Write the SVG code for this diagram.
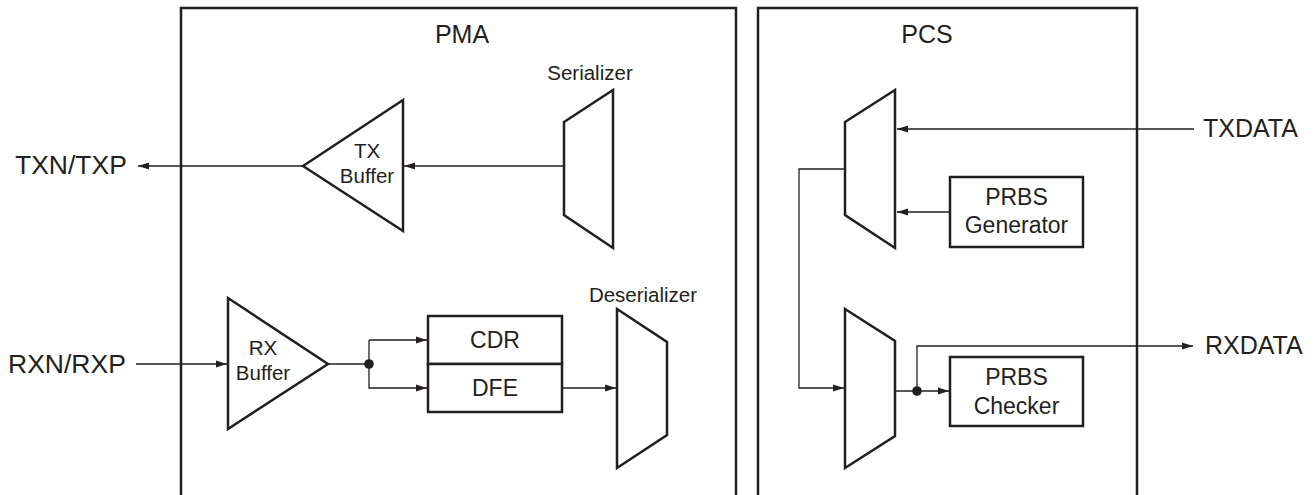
<svg xmlns="http://www.w3.org/2000/svg" width="1315" height="495" viewBox="0 0 1315 495">
<style>
.frame{fill:none;stroke:#231f20;stroke-width:2.5}
.shape{fill:#fff;stroke:#231f20;stroke-width:2.5;stroke-linejoin:miter}
.wire{fill:none;stroke:#231f20;stroke-width:1.3}
.big{font-family:"Liberation Sans",Arial,sans-serif;font-size:25px;fill:#231f20}
.port{font-family:"Liberation Sans",Arial,sans-serif;font-size:26.5px;fill:#231f20}
.mid{font-family:"Liberation Sans",Arial,sans-serif;font-size:23px;fill:#231f20;text-anchor:middle}
.sm{font-family:"Liberation Sans",Arial,sans-serif;font-size:20.5px;fill:#231f20;text-anchor:middle}
.dot{fill:#231f20}
</style>
<defs>
<marker id="arr" markerUnits="userSpaceOnUse" markerWidth="12" markerHeight="8" refX="11" refY="4" orient="auto">
<path d="M0,0.6 L11,4 L0,7.4 z" fill="#231f20"/>
</marker>
</defs>
<g id="pma">
<path class="frame" d="M181,500 V8 H736 V500"/>
<text class="big" x="462" y="43" text-anchor="middle">PMA</text>
</g>
<g id="pcs">
<path class="frame" d="M758,500 V8 H1137 V500"/>
<text class="big" x="927" y="43" text-anchor="middle">PCS</text>
</g>
<g id="connectors">
<path class="wire" d="M303,166 H138" marker-end="url(#arr)"/>
<path class="wire" d="M564,166 H404" marker-end="url(#arr)"/>
<path class="wire" d="M136,364 H227" marker-end="url(#arr)"/>
<path class="wire" d="M328,364 H369"/>
<path class="wire" d="M369,340 V388 H427" marker-end="url(#arr)"/>
<path class="wire" d="M369,340 H427" marker-end="url(#arr)"/>
<path class="wire" d="M562,388 H616" marker-end="url(#arr)"/>
<path class="wire" d="M1194,129 H897" marker-end="url(#arr)"/>
<path class="wire" d="M950,212 H897" marker-end="url(#arr)"/>
<path class="wire" d="M845,169 H799 V388 H844" marker-end="url(#arr)"/>
<path class="wire" d="M895,391 H949" marker-end="url(#arr)"/>
<path class="wire" d="M917,391 V346 H1193" marker-end="url(#arr)"/>
<circle class="dot" cx="369" cy="364" r="4.8"/>
<circle class="dot" cx="917" cy="391" r="4.8"/>
</g>
<g id="txn">
<text class="port" x="15" y="174">TXN/TXP</text>
</g>
<g id="rxn">
<text class="port" x="8" y="373">RXN/RXP</text>
</g>
<g id="txbuffer">
<polygon class="shape" points="303,166 403,100 403,231"/>
<text class="sm" x="367" y="158">TX</text>
<text class="sm" x="367" y="183">Buffer</text>
</g>
<g id="serializer">
<polygon class="shape" points="564,122 613,90 613,248 564,215"/>
<text class="sm" x="590" y="80">Serializer</text>
</g>
<g id="rxbuffer">
<polygon class="shape" points="228,298 328,364 228,429"/>
<text class="sm" x="263" y="355">RX</text>
<text class="sm" x="263" y="380">Buffer</text>
</g>
<g id="cdr">
<rect class="shape" x="428" y="316" width="134" height="48"/>
<text class="mid" x="495" y="348">CDR</text>
</g>
<g id="dfe">
<rect class="shape" x="428" y="364" width="134" height="48"/>
<text class="mid" x="495" y="396">DFE</text>
</g>
<g id="deserializer">
<polygon class="shape" points="617,309 667,342 667,435 617,468"/>
<text class="sm" x="643" y="302">Deserializer</text>
</g>
<g id="txmux">
<polygon class="shape" points="845,122 895,90 895,248 845,215"/>
</g>
<g id="rxmux">
<polygon class="shape" points="845,309 895,341 895,436 845,468"/>
</g>
<g id="prbsgen">
<rect class="shape" x="950" y="177" width="133" height="70"/>
<text class="mid" x="1016.5" y="205">PRBS</text>
<text class="mid" x="1016.5" y="233">Generator</text>
</g>
<g id="prbschk">
<rect class="shape" x="950" y="357" width="133" height="69"/>
<text class="mid" x="1016.5" y="385">PRBS</text>
<text class="mid" x="1016.5" y="414">Checker</text>
</g>
<g id="txdata">
<text class="big" x="1203" y="137">TXDATA</text>
</g>
<g id="rxdata">
<text class="big" x="1205" y="354">RXDATA</text>
</g>
</svg>
